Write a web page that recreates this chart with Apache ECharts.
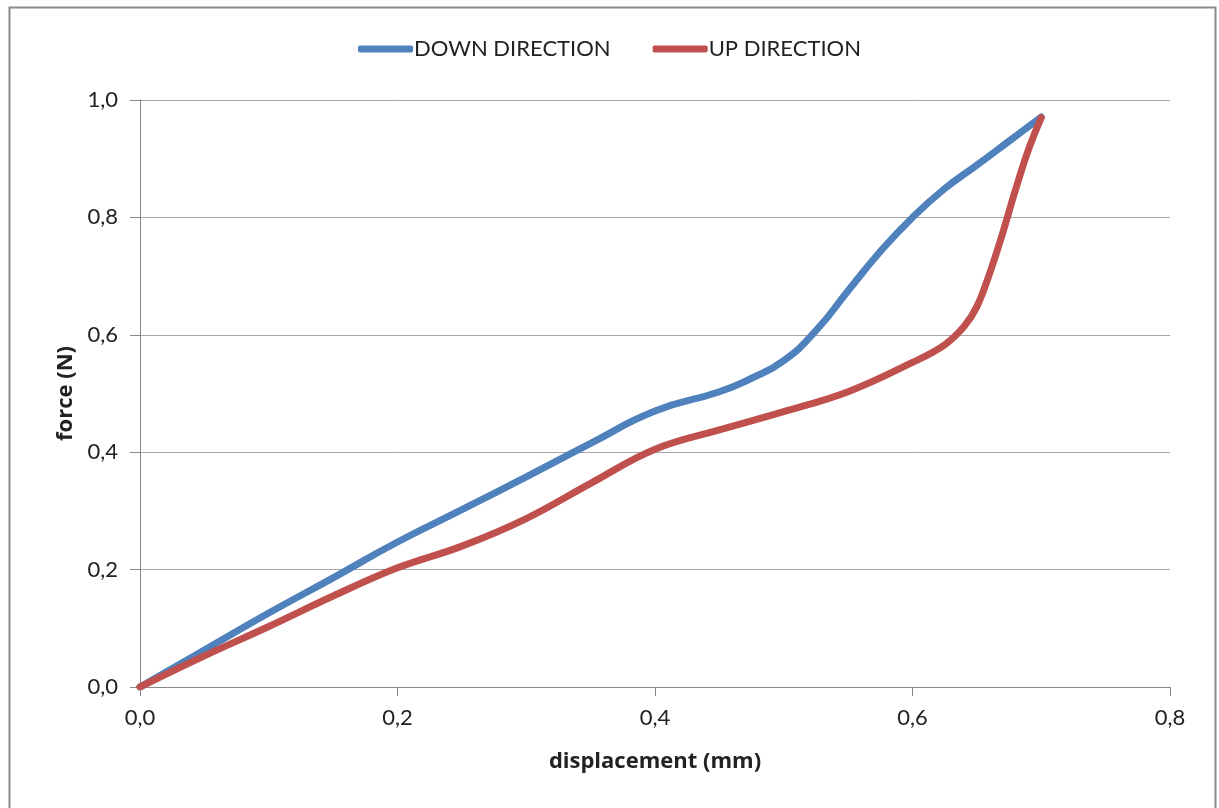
<!DOCTYPE html>
<html>
<head>
<meta charset="utf-8">
<script src="https://cdn.jsdelivr.net/npm/echarts@6/dist/echarts.min.js"></script>
<style>
html,body{margin:0;padding:0;background:#fff;}
#c{width:1219px;height:808px;}
</style>
</head>
<body>
<div id="c"></div>
<script>
const seriesNames = ['DOWN DIRECTION', 'UP DIRECTION'];
const downX = [0, 0.05, 0.1, 0.15, 0.2, 0.25, 0.3, 0.35, 0.4, 0.45, 0.475, 0.5, 0.525, 0.55, 0.575, 0.6, 0.625, 0.65, 0.675, 0.7];
const downY = [0, 0.063, 0.126, 0.186, 0.247, 0.302, 0.358, 0.415, 0.47, 0.503, 0.526, 0.556, 0.607, 0.675, 0.742, 0.8, 0.849, 0.889, 0.93, 0.971];
const upX = [0, 0.05, 0.1, 0.15, 0.2, 0.25, 0.3, 0.35, 0.4, 0.45, 0.5, 0.55, 0.6, 0.625, 0.64, 0.65, 0.66, 0.67, 0.68, 0.69, 0.7];
const upY = [0, 0.053, 0.103, 0.155, 0.203, 0.24, 0.287, 0.347, 0.405, 0.438, 0.469, 0.503, 0.553, 0.583, 0.614, 0.648, 0.705, 0.773, 0.847, 0.915, 0.97];
const xTicks = [0, 0.2, 0.4, 0.6, 0.8];
const yTicks = [0, 0.2, 0.4, 0.6, 0.8, 1.0];
const xName = 'displacement (mm)';
const yName = 'force (N)';
const colors = ['#4F81BD', '#C0504D'];

const font = 'Lato, "Open Sans", sans-serif';
const boldFont = '"Open Sans", sans-serif';
const fmt = v => v.toFixed(1).replace('.', ',');
const zip = (xs, ys) => xs.map((x, i) => [x, ys[i]]);

const chart = echarts.init(document.getElementById('c'), null, {renderer: 'canvas'});
chart.setOption({
  animation: false,
  color: colors,
  graphic: [{
    type: 'rect', left: 7, top: 5,
    shape: {width: 1206, height: 820},
    style: {fill: 'none', stroke: '#8a8a8a', lineWidth: 2}
  }],
  legend: {
    top: 33, left: 'center',
    itemWidth: 55, itemHeight: 7, itemGap: 42,
    icon: 'roundRect',
    textStyle: {fontFamily: font, fontSize: 22, color: '#222', padding: [0,0,0,-4]},
    data: seriesNames
  },
  grid: {left: 140, right: 49, top: 100, bottom: 121, containLabel: false},
  xAxis: {
    type: 'value', min: 0, max: 0.8, interval: 0.2,
    name: xName, nameLocation: 'middle', nameGap: 64,
    nameTextStyle: {fontFamily: boldFont, fontSize: 22, fontWeight: 'bold', color: '#222'},
    axisLine: {lineStyle: {color: '#868686', width: 1}},
    axisTick: {show: true, length: 9, lineStyle: {color: '#868686'}},
    axisLabel: {formatter: fmt, fontFamily: font, fontSize: 22, color: '#222', margin: 20,
      customValues: xTicks},
    splitLine: {show: false}
  },
  yAxis: {
    type: 'value', min: 0, max: 1, interval: 0.2,
    name: yName, nameLocation: 'middle', nameGap: 62,
    nameTextStyle: {fontFamily: boldFont, fontSize: 22, fontWeight: 'bold', color: '#222'},
    axisLine: {show: true, lineStyle: {color: '#868686', width: 1}},
    axisTick: {show: true, length: 10, lineStyle: {color: '#868686'}},
    axisLabel: {formatter: fmt, fontFamily: font, fontSize: 22, color: '#222', margin: 22},
    splitLine: {show: true, lineStyle: {color: '#a6a6a6', width: 1}}
  },
  series: [
    {name: seriesNames[0], type: 'line', data: zip(downX, downY), smooth: 0.5,
     showSymbol: false, lineStyle: {width: 7, color: colors[0], cap: 'round', join: 'round'}},
    {name: seriesNames[1], type: 'line', data: zip(upX, upY), smooth: 0.4,
     showSymbol: false, lineStyle: {width: 7, color: colors[1], cap: 'round', join: 'round'}}
  ]
});
</script>
</body>
</html>
